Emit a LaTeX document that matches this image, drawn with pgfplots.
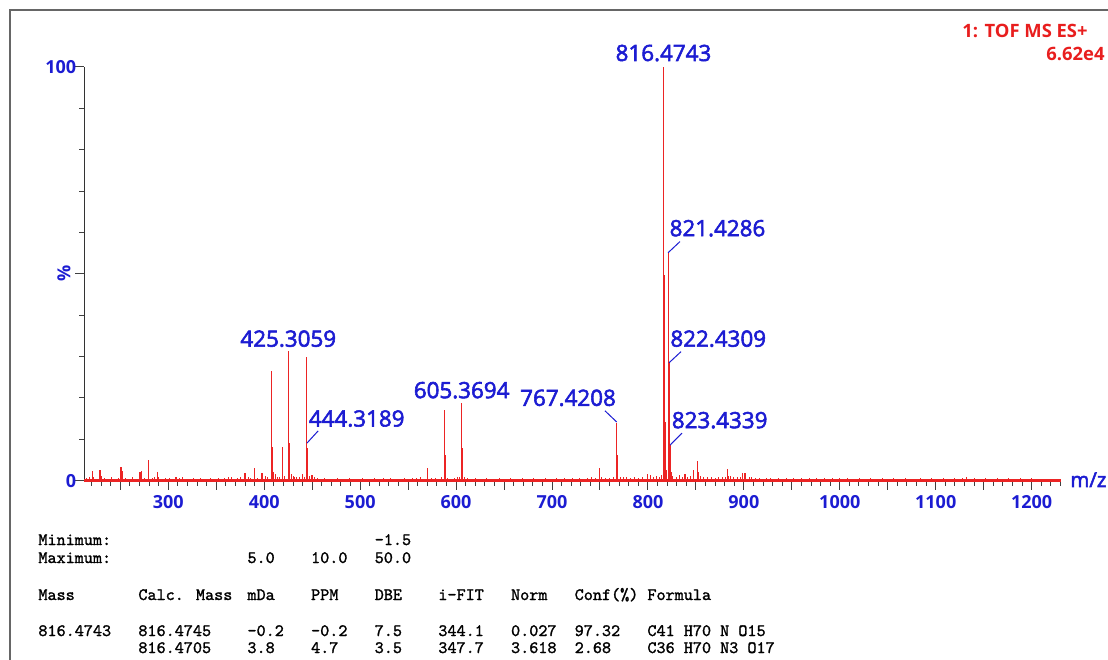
\documentclass[border=0pt]{standalone}
\usepackage{pgfplots}
\pgfplotsset{compat=1.18}
\usepackage{fontspec}
\setmainfont{Open Sans}
\newfontfamily\lblfont{Open Sans}[FakeBold=2.5]
\newfontfamily\tabfont{lmmono10-regular.otf}[FakeBold=1.5]
\definecolor{msblue}{RGB}{28,28,210}
\definecolor{msred}{RGB}{232,30,30}
\definecolor{specred}{RGB}{236,36,36}
\newcommand\lbl{\fontsize{11.2}{13}\lblfont}
\newcommand\tkl{\fontsize{9}{10}\selectfont\bfseries}

\begin{document}
\begin{tikzpicture}
\useasboundingbox (0,0) rectangle (554pt,329.5pt);
% pixel scope: (x,y) in reference pixels, y downwards
\begin{scope}[x=0.5pt,y=-0.5pt,yshift=329.5pt]
  \draw[black!60, line width=0.75pt] (10,662) -- (10,10) -- (1112,10);
  \node[msred, anchor=east, inner sep=0pt, font=\fontsize{9.2}{10}\selectfont\bfseries] at (1088,31) {1: TOF MS ES+};
  \node[msred, anchor=east, inner sep=0pt, font=\fontsize{9.2}{10}\selectfont\bfseries] at (1105,53.5) {6.62e4};
  \node[msblue, anchor=base west, inner sep=0pt, font=\fontsize{10.2}{12}\lblfont] at (1070,487) {m/z};
  % results table, monospaced columns
  \begin{scope}[every node/.style={anchor=base west, inner sep=0pt, font=\fontsize{8.66}{10}\tabfont}]
    \foreach \c/\r/\t in {0/545/Minimum:, 37/545/-1.5,
        0/563/Maximum:, 23/563/5.0, 30/563/10.0, 37/563/50.0,
        0/600/Mass, 11/600/Calc. Mass, 23/600/mDa, 30/600/PPM, 37/600/DBE,
        44/600/i-FIT, 52/600/Norm, 59/600/Conf(\%), 67/600/Formula,
        0/636/816.4743, 11/636/816.4745, 23/636/-0.2, 30/636/-0.2, 37/636/7.5,
        44/636/344.1, 52/636/0.027, 59/636/97.32, 67/636/C41 H70 N O15,
        11/653/816.4705, 23/653/3.8, 30/653/4.7, 37/653/3.5,
        44/653/347.7, 52/653/3.618, 59/653/2.68, 67/653/C36 H70 N3 O17}
      \node at ({38+\c*9.09},\r) {\t};
  \end{scope}
\end{scope}

\begin{axis}[
  at={(42.15pt,89.15pt)}, anchor=south west,
  scale only axis, width=488.2pt, height=206.85pt,
  xmin=212.44, xmax=1230.3, ymin=0, ymax=100,
  axis x line=bottom, axis y line=left,
  axis line style={-},
  x axis line style={-, specred, line width=0.8pt},
  y axis line style={-, black!80, line width=0.6pt},
  tick align=outside,
  major tick length=4.5pt, minor tick length=2.5pt,
  tick style={black!75, line width=0.5pt},
  xtick={250,300,...,1200},
  xticklabels={,300,,400,,500,,600,,700,,800,,900,,1000,,1100,,1200},
  minor xtick={220,230,...,1230},
  ytick={0,50,100}, yticklabels={0,,100},
  minor ytick={10,20,30,40,60,70,80,90},
  tick label style={msblue, font=\tkl},
  yticklabel style={xshift=4pt},
  xticklabel style={yshift=0.7pt},
  /pgf/number format/assume math mode=true,
  clip=false,
]
% baseline of the spectrum
\addplot[specred, line width=0.8pt] coordinates {(212.44,0.2) (1230.3,0.2)};
% main peaks
\addplot[ycomb, specred, line width=0.55pt, mark=none] coordinates {
(220.8,2.3) (222,1.0) (228.8,2.5) (230,1.2) (250.7,3.4) (252.3,2.3)
(270.5,2.2) (272,2.4) (279.6,5.0) (288.5,2.1) (290,1.0) (308,1.0)
(380,1.8) (389.7,3.0) (397.7,1.8)
(407.8,26.4) (408.8,8.1) (410,2.0) (419.2,8.1) (425.3,31.4) (426.3,9.0)
(428,1.5) (434,1.0) (440,1.6) (444.3,30.0) (445.3,8.0) (447,1.2) (449.8,1.4)
(570,3.0) (587.7,17.2) (588.7,6.3) (605.4,18.9) (606.4,8.0)
(749.3,3.0) (767.4,13.9) (768.4,6.2) (799.3,1.5)
(816.47,100) (817.48,49.8) (818.48,14.3) (819.5,2.5)
(821.43,55.0) (822.43,28.4) (823.43,8.6) (824.4,2.0)
(838.6,1.6) (847.5,2.7) (851.8,4.8) (853,2.0)
(883,2.9) (884,1.2) (898.8,1.8) (901.2,1.9) (906,1.0)
};
% small noise spikes
\addplot[ycomb, specred, line width=0.45pt, mark=none] coordinates {
(215,0.6) (218,0.8) (224,0.5) (233,0.7) (237,0.4) (241,0.9) (245,0.5) (248,0.7)
(255,0.6) (259,0.4) (263,0.8) (266,0.5) (275,0.7) (283,0.6) (286,0.9) (293,0.5)
(297,0.7) (301,0.6) (304,0.4) (312,0.6) (315,0.8) (322,0.5) (326,0.6) (330,0.4)
(333,0.7) (340,0.5) (344,0.6) (348,0.4) (352,0.7) (356,0.5) (359,0.6) (363,0.8)
(366,0.9) (369,0.5) (372,0.7) (375,0.8) (384,0.9) (386,0.6) (393,0.7) (401,1.2)
(403,0.8) (412,1.5) (414,1.0) (416,0.9) (421,1.1) (430,1.2) (432,0.8) (437,0.9)
(442,1.0) (452,0.8) (455,0.6) (459,0.5) (463,0.6) (467,0.4) (471,0.5) (476,0.6)
(480,0.4) (484,0.5) (489,0.6) (493,0.4) (497,0.5) (502,0.6) (506,0.4) (511,0.5)
(515,0.6) (519,0.4) (524,0.7) (528,0.5) (532,0.6) (537,0.4) (541,0.5) (546,0.6)
(550,0.5) (554,0.7) (559,0.6) (563,0.8) (566,0.5) (574,0.6) (578,0.7) (582,0.5)
(585,0.9) (591,0.7) (594,0.5) (598,0.6) (601,0.8) (603,1.0) (609,0.9) (612,0.6)
(616,0.5) (620,0.6) (624,0.4) (628,0.5) (632,0.6) (636,0.4) (640,0.5) (645,0.6)
(649,0.4) (653,0.5) (657,0.6) (661,0.4) (665,0.5) (669,0.6) (673,0.4) (677,0.5)
(681,0.6) (685,0.4) (689,0.5) (693,0.6) (697,0.5) (701,0.4) (705,0.6) (709,0.5)
(713,0.7) (717,0.5) (721,0.6) (725,0.4) (729,0.7) (733,0.5) (737,0.6) (741,0.8)
(745,0.7) (752,0.9) (756,0.6) (760,0.7) (764,0.8) (771,1.0) (774,0.8) (778,0.9)
(782,0.7) (786,0.8) (790,0.6) (794,0.8) (803,1.3) (806,0.9) (809,1.1) (812,1.0)
(814,1.4) (826,1.2) (830,1.0) (833,1.3) (836,0.9) (841,1.0) (844,1.1) (855,1.2)
(858,0.9) (862,0.8) (866,0.9) (870,0.7) (874,0.8) (878,0.9) (881,1.0) (886,1.2)
(889,0.9) (893,0.8) (896,1.0) (908,0.8) (912,0.6) (916,0.7) (920,0.5) (924,0.6)
(928,0.7) (932,0.5) (936,0.6) (940,0.4) (944,0.6) (948,0.5) (952,0.7) (956,0.5)
(960,0.6) (964,0.4) (968,0.6) (972,0.5) (976,0.7) (980,0.5) (984,0.6) (988,0.4)
(992,0.6) (996,0.5) (1000,0.6) (1004,0.4) (1008,0.6) (1012,0.5) (1016,0.4) (1020,0.6)
(1024,0.5) (1028,0.4) (1032,0.7) (1036,0.5) (1040,0.4) (1044,0.6) (1048,0.5) (1052,0.4)
(1056,0.6) (1060,0.5) (1064,0.4) (1068,0.6) (1072,0.5) (1076,0.4) (1080,0.5) (1084,0.6)
(1088,0.4) (1092,0.5) (1096,0.6) (1100,0.4) (1104,0.5) (1108,0.6) (1112,0.4) (1116,0.5)
(1120,0.7) (1124,0.5) (1128,0.6) (1132,0.8) (1136,0.5) (1140,0.6) (1144,0.4) (1148,0.5)
(1152,0.6) (1156,0.4) (1160,0.5) (1164,0.6) (1168,0.4) (1172,0.5) (1176,0.6) (1180,0.4)
(1184,0.5) (1188,0.6) (1192,0.4) (1196,0.5) (1200,0.6) (1204,0.4) (1208,0.5) (1212,0.4)
(1216,0.5) (1220,0.4) (1224,0.5) (1228,0.3)
};
% peak annotations
\begin{scope}[every node/.style={msblue, font=\lbl, anchor=base, inner sep=0pt}]
  \node at (axis cs:816.2,101.45) {816.4743};
  \node at (axis cs:872.5,59.1) {821.4286};
  \node at (axis cs:873.3,32.4) {822.4309};
  \node at (axis cs:874.8,12.7) {823.4339};
  \node at (axis cs:425.1,32.4) {425.3059};
  \node at (axis cs:496.4,13.1) {444.3189};
  \node at (axis cs:605.8,19.95) {605.3694};
  \node at (axis cs:716.7,18.1) {767.4208};
\end{scope}
\begin{scope}[msblue, line width=0.5pt]
  \draw (axis cs:456.2,12.04) -- (axis cs:444.6,9.1);
  \draw (axis cs:755.2,16.9) -- (axis cs:767.4,14.2);
  \draw (axis cs:833.4,57.8) -- (axis cs:821.0,55.1);
  \draw (axis cs:834.5,31.2) -- (axis cs:822.0,28.5);
  \draw (axis cs:835.5,11.5) -- (axis cs:823.1,8.6);
\end{scope}
\node[msblue, rotate=90, font=\tkl] at (axis cs:191.2,50) {\%};
\end{axis}
\end{tikzpicture}
\end{document}
